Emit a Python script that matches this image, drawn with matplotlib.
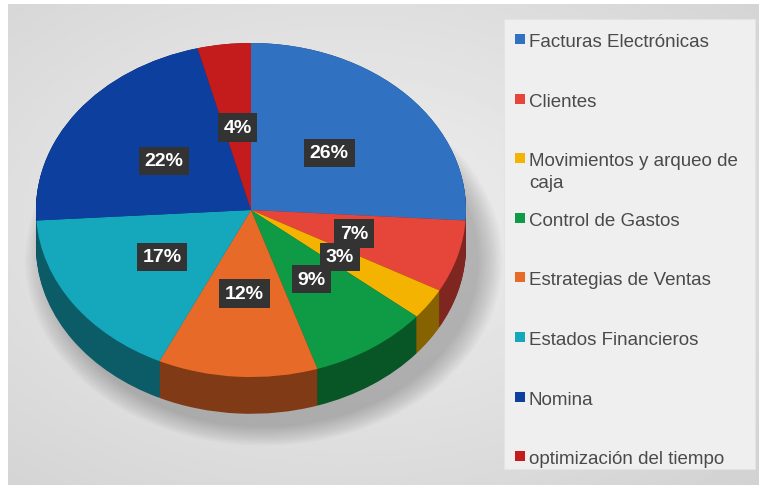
import numpy as np
import matplotlib.pyplot as plt
from matplotlib.colors import to_rgb
from matplotlib.patches import Rectangle, Ellipse

plt.rcParams['font.family'] = ['Liberation Sans', 'DejaVu Sans']

labels = [
    "Facturas Electrónicas",
    "Clientes",
    "Movimientos y arqueo de\ncaja",
    "Control de Gastos",
    "Estrategias de Ventas",
    "Estados Financieros",
    "Nomina",
    "optimización del tiempo",
]
values = [26, 7, 3, 9, 12, 17, 22, 4]
colors = ["#3171c1", "#e6453a", "#f4b300", "#0f9a45",
          "#e86a28", "#15a8bd", "#0d409e", "#c41c1c"]

W, H = 759, 489
fig = plt.figure(figsize=(W / 100, H / 100), dpi=100, facecolor="white")

# background panel with soft radial gradient
bg = fig.add_axes([8 / W, 3 / H, 751 / W, 481 / H])
yy, xx = np.mgrid[0:1:200j, 0:1:300j]
r = np.sqrt(((xx - 0.45) / 0.8) ** 2 + ((yy - 0.45) / 0.8) ** 2)
bg.imshow(0.94 - 0.12 * r, cmap="gray", vmin=0, vmax=1, aspect="auto",
          extent=[0, 1, 0, 1])
bg.set_axis_off()

# pie (drawn as a stretched circle with a darker side for depth)
ax = fig.add_axes([14.5 / W, 35.8 / H, 473 / W, 442.6 / H])

# soft shadow under the pie
for k in range(12):
    ax.add_patch(Ellipse((0.06, -0.3), 2.0 + 0.02 * k, 2.0 + 0.02 * k,
                         facecolor="black", alpha=0.018, linewidth=0,
                         clip_on=False))

dark = [tuple(c * 0.55 for c in to_rgb(col)) for col in colors]
depth = 0.22
for d in np.linspace(depth, 0.0, 40):
    ax.pie(values, colors=dark, startangle=90, counterclock=False,
           center=(0, -d), wedgeprops=dict(linewidth=0))

wedges, _, autotexts = ax.pie(
    values, colors=colors, startangle=90, counterclock=False,
    autopct="%1.0f%%", pctdistance=0.5,
    wedgeprops=dict(linewidth=0),
    textprops=dict(color="white", fontsize=14, fontweight="bold"))
for t in autotexts:
    t.set_bbox(dict(boxstyle="square,pad=0.3", facecolor="#333333",
                    edgecolor="none"))

ax.set_aspect("auto")
ax.set_xlim(-1.1, 1.1)
ax.set_ylim(-1.45, 1.2)
ax.set_axis_off()

# legend panel
lg = fig.add_axes([0, 0, 1, 1], facecolor="none")
lg.set_xlim(0, W)
lg.set_ylim(H, 0)
lg.set_axis_off()
lg.add_patch(Rectangle((504, 20), 251, 450, facecolor="#efefef",
                       edgecolor="#e4e4e4", linewidth=0.8))
y0, step, line_h = 40, 59.6, 22
for i, (lab, col) in enumerate(zip(labels, colors)):
    y = y0 + i * step
    lg.scatter([519.5], [y], marker="s", s=48, color=col, linewidths=0)
    for k, part in enumerate(lab.split("\n")):
        lg.text(529, y + 7 + k * line_h, part, fontsize=13.5,
                color="#4a4a4a", va="baseline", ha="left")

fig.savefig("out.png", dpi=100, facecolor="white")
